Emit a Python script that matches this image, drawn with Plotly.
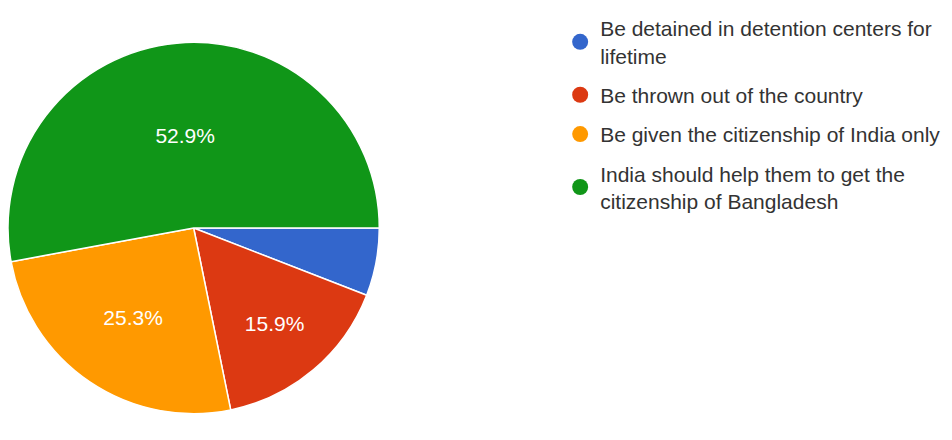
import plotly.graph_objects as go

labels = [
    "Be detained in detention centers for<br>lifetime",
    "Be thrown out of the country",
    "Be given the citizenship of India only",
    "India should help them to get the<br>citizenship of Bangladesh",
]
values = [5.9, 15.9, 25.3, 52.9]
colors = ["#3366cc", "#dc3912", "#ff9900", "#109618"]
shown_text = ["", "%{percent:.1%}", "%{percent:.1%}", "%{percent:.1%}"]

FONT = "Liberation Sans, Arial, sans-serif"

fig = go.Figure()
fig.add_trace(go.Pie(
    labels=labels,
    values=values,
    sort=False,
    direction="clockwise",
    rotation=90,
    marker=dict(colors=colors, line=dict(color="white", width=1.5)),
    texttemplate=shown_text,
    textposition="inside",
    insidetextorientation="horizontal",
    textfont=dict(family=FONT, size=21, color="white"),
    showlegend=False,
    domain=dict(x=[0, 0.39], y=[0, 1]),
    hoverinfo="label+percent",
))

for i, (lab, col) in enumerate(zip(labels, colors)):
    fig.add_trace(go.Scatter(
        x=[None], y=[None], mode="markers", name=lab,
        marker=dict(symbol="circle", size=18, color=col),
        legendgroup=f"g{i}", showlegend=True,
    ))

fig.update_layout(
    width=952, height=440,
    margin=dict(l=0, r=0, t=0, b=0),
    paper_bgcolor="white", plot_bgcolor="white",
    xaxis=dict(visible=False), yaxis=dict(visible=False),
    legend=dict(
        x=0.580, y=1.0, xanchor="left", yanchor="top",
        font=dict(family=FONT, size=21, color="#333333"),
        tracegroupgap=9, bgcolor="rgba(0,0,0,0)",
    ),
)

fig.write_html("out.html")
